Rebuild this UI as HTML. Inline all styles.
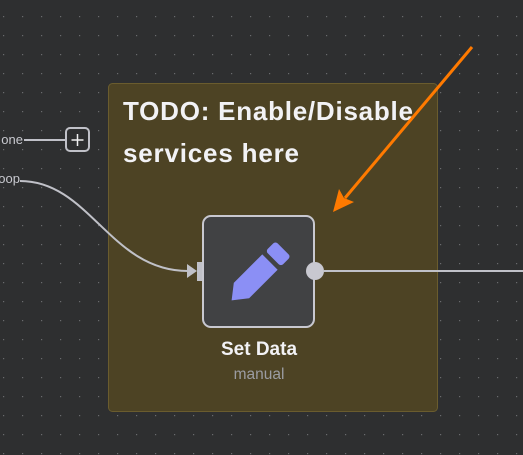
<!DOCTYPE html>
<html><head><style>
body{margin:0;width:523px;height:455px;overflow:hidden;background:#2e2f30;font-family:"Liberation Sans",sans-serif;}
</style></head><body>
<svg width="523" height="455" xmlns="http://www.w3.org/2000/svg" style="position:absolute;left:0;top:0">
<defs><pattern id="d" x="3" y="16" width="19" height="19" patternUnits="userSpaceOnUse"><rect x="0" y="0" width="1.2" height="1.2" fill="#6a6b6e"/></pattern></defs>
<rect width="523" height="455" fill="#2e2f30"/>
<rect width="523" height="455" fill="url(#d)"/>
<rect x="108.5" y="83.5" width="329" height="328" rx="4" fill="#4d4324" stroke="#6a5c2e"/>
<text x="123" y="120" fill="#f2f2f5" font-size="26" font-weight="bold" textLength="290">TODO: Enable/Disable</text>
<text x="123" y="162" fill="#f2f2f5" font-size="26" font-weight="bold" textLength="176">services here</text>
<text x="23" y="144" fill="#c8c9cf" font-size="13" text-anchor="end">one</text>
<line x1="24" y1="140" x2="66" y2="140" stroke="#c0c1c8" stroke-width="2"/>
<rect x="66" y="128" width="23" height="23" rx="4" fill="#2e2f30" stroke="#c0c1c8" stroke-width="2"/>
<path d="M77.5 134v12M71.5 140h12" stroke="#f0f0f0" stroke-width="1.5"/>
<text x="20" y="183" fill="#c8c9cf" font-size="13" text-anchor="end">oop</text>
<path d="M20 181 C90 181 110 271 188 271" fill="none" stroke="#c0c1c8" stroke-width="2"/>
<path d="M187 264 L197 271 L187 278 Z" fill="#c0c1c8"/>
<rect x="197" y="262" width="9" height="19" fill="#c0c1c8"/>
<rect x="203" y="216" width="111" height="111" rx="8" fill="#414244" stroke="#c8c8d0" stroke-width="2"/>
<g transform="translate(259 273) rotate(45) scale(1.55)">
<rect x="-7" y="-22" width="14" height="9" rx="2" fill="#8b8ff5"/>
<path d="M-7 -10 H7 V16 L0 25 L-7 16 Z" fill="#8b8ff5"/>
</g>
<line x1="324" y1="271" x2="523" y2="271" stroke="#c0c1c8" stroke-width="2"/>
<circle cx="315" cy="271" r="9" fill="#c8c8d0"/>
<text x="259" y="355" fill="#f2f2f5" font-size="19" font-weight="bold" text-anchor="middle">Set Data</text>
<text x="259" y="379" fill="#9b9ca2" font-size="15.5" text-anchor="middle">manual</text>
<line x1="472" y1="47" x2="345" y2="198" stroke="#ff7a00" stroke-width="3"/>
<path d="M333 212 L339 189 L344 198 L354 202 Z" fill="#ff7a00"/>
</svg>
</body></html>
